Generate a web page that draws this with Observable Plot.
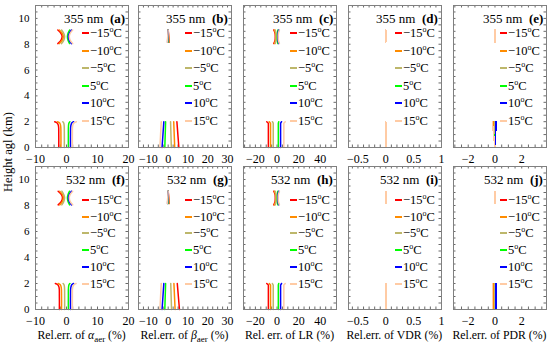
<!DOCTYPE html>
<html><head><meta charset="utf-8">
<script src="https://cdn.jsdelivr.net/npm/d3@7"></script>
<script src="https://cdn.jsdelivr.net/npm/@observablehq/plot@0.6"></script>
<style>
body{margin:0;background:#fff}
#c{position:relative;width:550px;height:348px;overflow:hidden;font-family:"Liberation Serif","Times New Roman",serif;color:#000}
#c svg{position:absolute}
.t{position:absolute;white-space:nowrap;line-height:1}
sup{font-size:8px;vertical-align:5px;line-height:0}
sub{font-size:9px;vertical-align:-3px;line-height:0}
</style></head>
<body><div id="c"></div>
<script>
// ---------- data ----------
const temps = ["\u221215", "\u221210", "\u22125", "5", "10", "15"];
const colors = ["#ff0000", "#ff8c00", "#bdb76b", "#00ff00", "#0000ff", "#ffcba4"];
const wavelengths = ["355 nm", "532 nm"];
const panelLetters = [["a","b","c","d","e"],["f","g","h","i","j"]];
const xTitles = ["Rel.err. of <i>\u03b1</i><sub>aer</sub> (%)", "Rel.err. of <i>\u03b2</i><sub>aer</sub> (%)", "Rel. err. of LR (%)", "Rel.err. of VDR (%)", "Rel.err. of PDR (%)"];
const xDomains = [[-10, 20], [-15, 32], [-31, 55], [-0.67, 1], [-3.1, 3.85]];
const xTicks = [[-10, 0, 10, 20], [-10, 0, 10, 20, 30], [-20, 0, 20, 40], [-0.5, 0, 0.5, 1], [-2, 0, 2]];
const xMinorStep = [2, 2.5, 5, 0.1, 0.5];
const yTicks = [0, 2, 4, 6, 8, 10];

// heights (km)
const hLowCurve = [0, 1.0, 1.7, 1.9, 2.0];
const hLowLine = [0, 2.0];
const hLowHook = [0, 1.88, 2.0];
const hTopCurve = [8.05, 8.3, 8.6, 8.85, 9.1];
const hTopLine = [8.15, 9.1];

// relative errors (%) per temperature (-15,-10,-5,5,10,15 degC)
const alphaLow355 = [[-2.5,-2.5,-2.6,-3.0,-3.8],[-1.8,-1.8,-1.9,-2.2,-2.9],[-0.7,-0.7,-0.75,-0.9,-1.2],[0.6,0.6,0.65,0.8,1.1],[1.3,1.3,1.4,1.7,2.3],[1.9,1.9,2.0,2.4,3.2]];
const alphaTop355 = [[-2.8,-1.8,-1.4,-1.8,-2.8],[-2.3,-1.4,-1.0,-1.4,-2.3],[-1.6,-0.9,-0.6,-0.9,-1.6],[1.0,0.5,0.3,0.5,1.0],[1.6,0.9,0.6,0.9,1.6],[2.0,1.2,0.9,1.2,2.0]];
const betaLow355 = [[5.4,4.4],[3.3,2.8],[1.6,1.2],[-1.7,-1.3],[-3.1,-2.2],[-4.2,-3.5]];
const betaTop355 = [[0.5,0],[0.35,0],[0.2,0],[-0.15,0],[-0.3,0],[-0.45,0]];
const lrLow355 = [[-8,-8,-9.5],[-6,-6,-7.2],[-3.5,-3.5,-4.3],[1.2,1.2,1.6],[3.3,3.3,4.2],[6.3,6.3,7.6]];
const lrTop355 = [[-3,-1.8,-1.6,-1.8,-3],[-2.4,-1.4,-1.2,-1.4,-2.4],[-1.6,-0.9,-0.8,-0.9,-1.6],[0.8,0.4,0.3,0.4,0.8],[1.6,0.9,0.8,0.9,1.6],[2.2,1.3,1.1,1.3,2.2]];
const vdrLow355 = [[0,0],[0,0],[0,0],[0,0],[0,0],[0,0]];
const vdrTop355 = [[0,0],[0,0],[0,0],[0,0],[0,0],[0,0]];
const pdrLow355 = [[0,-0.18],[0,-0.12],[0,-0.05],[0,0.04],[0,0.09],[0,-0.2]];
const pdrTop355 = [[0,0],[0,0],[0,0],[0,0],[0,0],[0,0]];

const alphaLow532 = [[-2.3,-2.3,-2.4,-2.8,-3.6],[-1.6,-1.6,-1.7,-2.0,-2.7],[-0.6,-0.6,-0.65,-0.8,-1.1],[0.6,0.6,0.65,0.8,1.1],[1.3,1.3,1.4,1.7,2.3],[1.9,1.9,2.0,2.4,3.1]];
const alphaTop532 = [[-2.7,-1.7,-1.3,-1.7,-2.7],[-2.2,-1.3,-1.0,-1.3,-2.2],[-1.5,-0.9,-0.6,-0.9,-1.5],[1.0,0.5,0.3,0.5,1.0],[1.6,0.9,0.6,0.9,1.6],[2.0,1.2,0.9,1.2,2.0]];
const betaLow532 = [[5.7,4.6],[3.5,2.9],[1.7,1.3],[-1.7,-1.3],[-3.1,-2.2],[-4.2,-3.5]];
const betaTop532 = [[0.5,0],[0.35,0],[0.2,0],[-0.15,0],[-0.3,0],[-0.45,0]];
const lrLow532 = [[-8,-8,-9.5],[-6,-6,-7.2],[-3.5,-3.5,-4.3],[1.2,1.2,1.6],[3.3,3.3,4.2],[6.3,6.3,7.6]];
const lrTop532 = [[-3,-1.8,-1.6,-1.8,-3],[-2.4,-1.4,-1.2,-1.4,-2.4],[-1.6,-0.9,-0.8,-0.9,-1.6],[0.8,0.4,0.3,0.4,0.8],[1.6,0.9,0.8,0.9,1.6],[2.2,1.3,1.1,1.3,2.2]];
const vdrLow532 = [[0,0],[0,0],[0,0],[0,0],[0,0],[0,0]];
const vdrTop532 = [[0,0],[0,0],[0,0],[0,0],[0,0],[0,0]];
const pdrLow532 = [[-0.17,-0.17],[-0.11,-0.11],[-0.05,-0.05],[0.03,0.03],[0.06,0.06],[-0.19,-0.19]];
const pdrTop532 = [[0,0],[0,0],[0,0],[0,0],[0,0],[0,0]];

const layers = [
  [[[hLowCurve, alphaLow355, true],[hTopCurve, alphaTop355, true]],
   [[hLowLine, betaLow355, false],[hTopLine, betaTop355, false]],
   [[hLowHook, lrLow355, false],[hTopCurve, lrTop355, true]],
   [[hLowLine, vdrLow355, false],[hTopLine, vdrTop355, false]],
   [[hLowLine, pdrLow355, false],[hTopLine, pdrTop355, false]]],
  [[[hLowCurve, alphaLow532, true],[hTopCurve, alphaTop532, true]],
   [[hLowLine, betaLow532, false],[hTopLine, betaTop532, false]],
   [[hLowHook, lrLow532, false],[hTopCurve, lrTop532, true]],
   [[hLowLine, vdrLow532, false],[hTopLine, vdrTop532, false]],
   [[hLowLine, pdrLow532, false],[hTopLine, pdrTop532, false]]]
];

// ---------- layout ----------
const root = document.getElementById("c");
const frameLefts = [35, 138, 243, 348, 453];
const frameW = 93;
const frameTops = [5, 166];
const frameH = [142, 143];
const legendStep = [17.5, 16.7];
const ml = 30, mr = 10, mt = 10, mb = 24;
const fmt = d => (d < 0 ? "\u2212" : "") + Math.abs(d);

function addText(html, x, y, style) {
  const d = document.createElement("div");
  d.className = "t";
  d.innerHTML = html;
  Object.assign(d.style, style || {});
  d.style.left = x + "px"; d.style.top = y + "px";
  root.appendChild(d);
  return d;
}

for (let row = 0; row < 2; row++) {
  for (let col = 0; col < 5; col++) {
    const fh = frameH[row];
    const lines = [], curves = [];
    layers[row][col].forEach(([hs, vals, smooth], li) => {
      vals.forEach((arr, i) => arr.forEach((v, j) => {
        (smooth ? curves : lines).push({h: hs[j], v, c: colors[i], k: li + "-" + i});
      }));
    });
    const [x0, x1] = xDomains[col];
    const step = xMinorStep[col];
    const xMinor = d3.range(Math.ceil(x0 / step) * step, x1 + 1e-9, step).map(d => +d.toFixed(4));
    const yMinor = d3.range(0, 11.01, 0.5);
    const marks = [
      Plot.ruleX(xMinor, {x: d => d, insetTop: fh - 2.5, stroke: "#444", strokeWidth: 0.8}),
      Plot.ruleX(xMinor, {x: d => d, insetBottom: fh - 2.5, stroke: "#444", strokeWidth: 0.8}),
      Plot.ruleY(yMinor, {y: d => d, insetRight: frameW - 2.5, stroke: "#444", strokeWidth: 0.8}),
      Plot.ruleY(yMinor, {y: d => d, insetLeft: frameW - 2.5, stroke: "#444", strokeWidth: 0.8}),
      Plot.line(lines, {x: "v", y: "h", z: "k", stroke: "c", strokeWidth: 1.5, shapeRendering: col >= 3 ? "crispEdges" : "auto"}),
      Plot.line(curves, {x: "v", y: "h", z: "k", stroke: "c", strokeWidth: 1.5, curve: "catmull-rom"}),
      Plot.frame({stroke: "#808080", strokeWidth: 1}),
      Plot.axisX({ticks: xTicks[col], tickSize: 0, tickPadding: 7, fontSize: 12, tickFormat: fmt, label: null, fontFamily: "Liberation Serif"})
    ];
    if (col === 0) marks.push(Plot.axisY({ticks: yTicks, tickSize: 0, tickPadding: 6, fontSize: 11, label: null, fontFamily: "Liberation Serif"}));
    const svg = Plot.plot({
      width: frameW + ml + mr, height: fh + mt + mb,
      marginLeft: ml, marginRight: mr, marginTop: mt, marginBottom: mb,
      x: {domain: xDomains[col], axis: null},
      y: {domain: [0, 11], axis: null},
      color: {type: "identity"},
      style: {background: "transparent", overflow: "visible", fontFamily: "Liberation Serif", color: "#000"},
      marks
    });
    svg.style.left = (frameLefts[col] - ml) + "px";
    svg.style.top = (frameTops[row] - mt) + "px";
    root.appendChild(svg);

    // panel label
    const fr = frameLefts[col] + frameW;
    const lab = addText(wavelengths[row] + " &nbsp;<b>(" + panelLetters[row][col] + ")</b>", 0, frameTops[row] + 6.5, {fontSize: "13px"});
    lab.style.left = (fr - 3 - lab.offsetWidth) + "px";
    // legend
    for (let i = 0; i < 6; i++) {
      const y = frameTops[row] + (row === 0 ? 28 : 34) + i * legendStep[row];
      const ln = document.createElement("div");
      Object.assign(ln.style, {position: "absolute", left: (fr - 46) + "px", top: (y - 1) + "px", width: "7px", height: "2px", background: colors[i]});
      root.appendChild(ln);
      addText(temps[i] + "<sup>o</sup>C", fr - 38, y - 6, {fontSize: "12.5px"});
    }
    if (row === 1) {
      const t = addText(xTitles[col], 0, 329.5, {fontSize: "11.8px"});
      t.style.left = (frameLefts[col] + frameW / 2 - t.offsetWidth / 2) + "px";
    }
  }
}
// y-axis title
const yt = addText("Height agl (km)", 0, 0, {fontSize: "12.5px"});
yt.style.transformOrigin = "0 0";
yt.style.transform = "rotate(-90deg)";
yt.style.left = "2px";
yt.style.top = (152 + yt.offsetWidth / 2) + "px";
</script>
</body></html>
